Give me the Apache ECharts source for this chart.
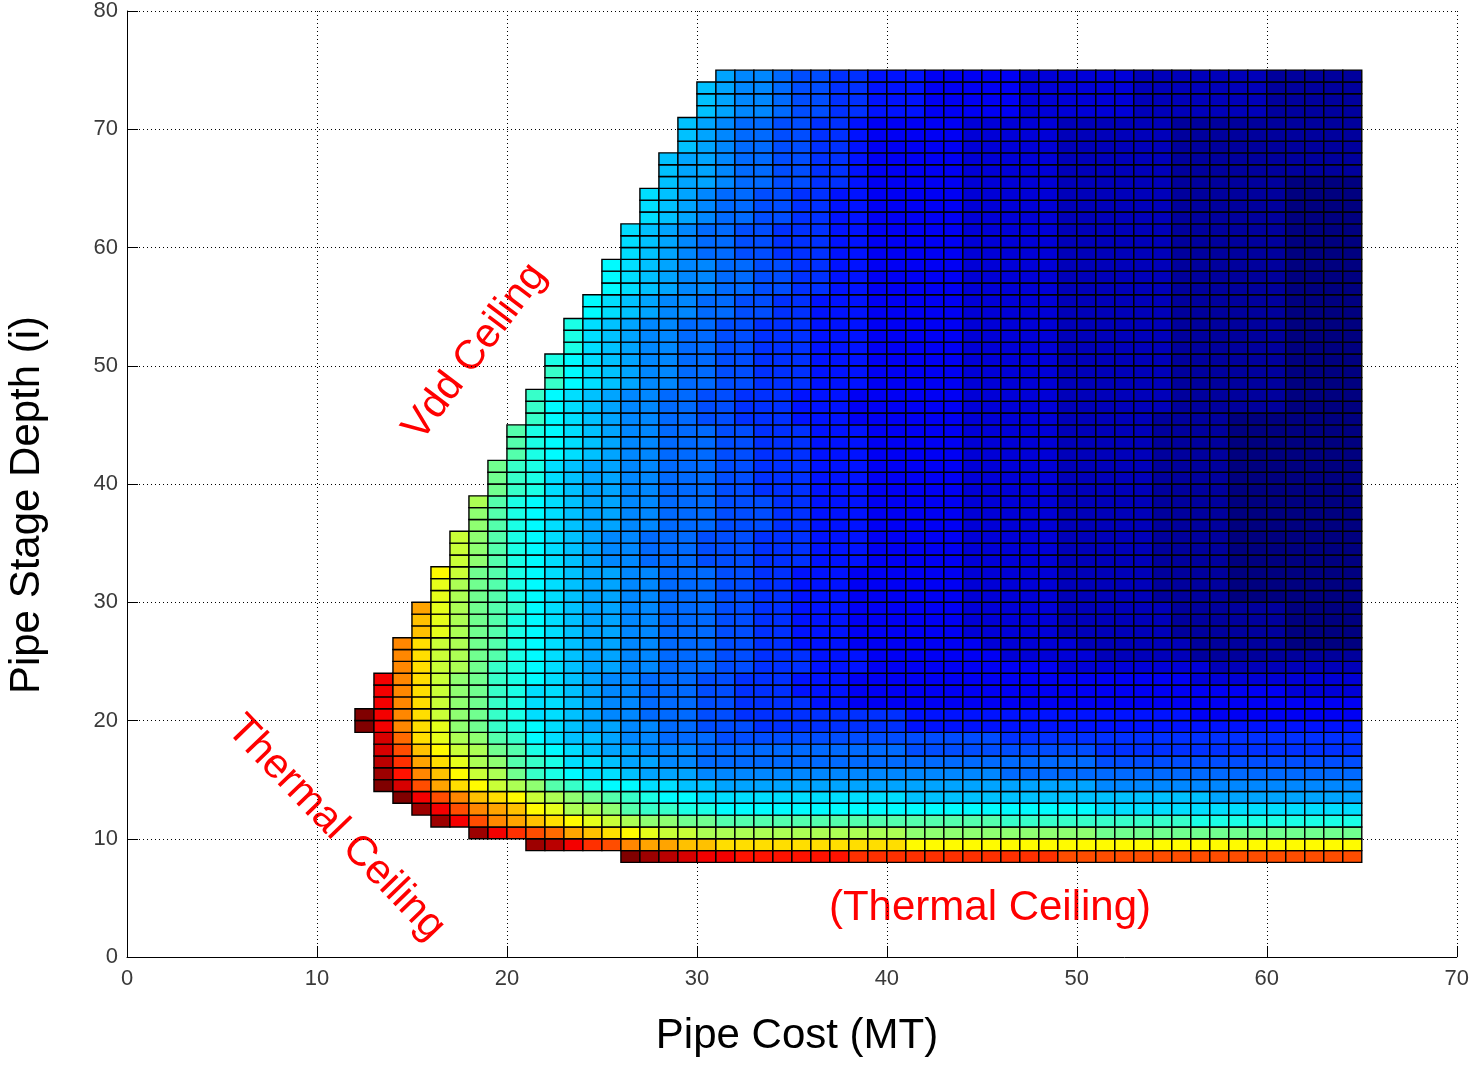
<!DOCTYPE html>
<html>
<head>
<meta charset="utf-8">
<script src="https://cdn.jsdelivr.net/npm/echarts@6/dist/echarts.min.js"></script>
<style>
html,body{margin:0;padding:0;background:#ffffff;}
#chart{width:1472px;height:1065px;}
</style>
</head>
<body>
<div id="chart"></div>
<script>
// ---- axis ticks ----
const xTicks = [0, 10, 20, 30, 40, 50, 60, 70];
const yTicks = [0, 10, 20, 30, 40, 50, 60, 70, 80];

// ---- pipe stage depth of each row of cells (bottom edge) ----
const depths = [8,9,10,11,12,13,14,15,16,17,18,19,20,21,22,23,24,25,26,27,28,29,30,31,32,33,34,35,36,37,38,39,40,41,42,43,44,45,46,47,48,49,50,51,52,53,54,55,56,57,58,59,60,61,62,63,64,65,66,67,68,69,70,71,72,73,74];

// ---- first pipe cost column present in each row (rows end at cost 64) ----
const startCost = [26,21,18,16,15,14,13,13,13,13,13,12,12,13,13,13,14,14,14,15,15,15,16,16,16,17,17,17,18,18,18,19,19,19,20,20,20,21,21,21,22,22,22,23,23,23,24,24,25,25,25,26,26,26,27,27,27,28,28,28,29,29,29,30,30,30,31];

// ---- colour level of each cell (0 = dark blue ... 35 = dark red), "v*n" = n cells of level v ----
const levelRows = [
  "35 34 33 32 31 31 30*6 29*11 28*16",
  "34 33 31 29 28 26 25 25 24 24 23*10 22*24",
  "34 31 29 28 27 25 24 23 22 21 20 20 19*11 18*10 17*14",
  "34 31 28 26 25 24 23 22 21 20 19 18 18 17 17 16*15 15*10 14*9",
  "34 31 28 26 25 24 22 21 19 19 18 16 15 15 14 14 13*20 12*14",
  "35 31 28 26 24 23 22 20 19 18 17 16 15 14 13 13 12*11 11*16 10*8",
  "35 32 28 25 23 22 20 19 18 16 15 14 13 13 12 12 11 11 10*20 9*14",
  "34 30 26 24 22 20 19 17 15 14 13 12 12 11 10 10 10 9*16 8*19",
  "33 29 25 23 21 19 18 16 15 14 12 12 11 10 10 9 9 8*21 7*14",
  "32 28 24 22 20 19 17 16 14 13 12 11 10 10 9 9 9 8*11 7*10 6*14",
  "32 27 23 21 19 18 16 15 13 12 11 11 10 9 9 8 8 8 7*15 6*19",
  "35 31 26 23 21 18 17 15 14 13 12 11 10 10 9 9 8 8 7 7 7 6*8 5*24",
  "35 31 26 23 20 18 17 15 14 12 12 11 10 9 9 8 8 8 7 7 6*9 5*15 4*9",
  "31 26 23 20 18 17 15 14 12 12 11 10 9 9 8 8 8 7 7 6 6 6 6 5 5 4*27",
  "31 26 23 20 18 17 15 14 12 12 11 10 9 9 8 8 8 7 7 6 6 6 5 5 5 4*23 3*4",
  "31 26 23 20 18 17 15 14 13 12 11 10 9 9 8 8 8 7 7 6 6 6 5 5 5 4*18 3*9",
  "26 23 20 19 17 15 14 13 12 11 10 10 9 9 8 8 8 7 7 6 6 6 5 5 5 4*10 3*8 2*8",
  "26 23 20 19 17 16 14 13 12 11 10 10 9 9 8 8 8 7 7 6 6 6 5 5 5 4*7 3*5 2*5 1*9",
  "26 23 20 19 17 16 14 13 12 11 10 10 9 9 8 8 8 7 7 6 6 5 5 5 4*7 3*5 2*6 1*5 0*4",
  "24 21 19 17 16 14 13 12 11 10 10 9 9 8 8 8 7 7 6 6 5 5 5 4*6 3*5 2*6 1*6 0*4",
  "24 21 19 17 16 14 13 12 11 10 10 9 9 8 8 8 7 7 6 6 5 5 5 4*6 3*5 2*6 1*6 0*4",
  "25 21 19 17 16 15 13 12 11 10 10 9 9 8 8 8 7 7 6 6 5 5 5 4*6 3*5 2*6 1*6 0*4",
  "21 19 17 16 14 13 12 11 10 10 9 9 8 8 8 7 7 6 6 5 5 5 4 4*5 3*5 2*5 1*4 0*7",
  "21 19 17 16 14 13 12 11 10 10 9 9 8 8 8 7 7 6 6 5 5 5 4 4*5 3*5 2*5 1*4 0*7",
  "22 20 17 16 14 13 12 11 10 10 9 9 8 8 8 7 7 6 6 5 5 5 4 4*5 3*5 2*5 1*4 0*7",
  "20 18 16 14 13 12 11 10 9 9 8 8 8 7 7 7 6 6 6 5 5 5 4*5 3*5 2*5 1*4 0*7",
  "20 18 16 14 13 12 11 10 9 9 8 8 8 7 7 7 6 6 6 5 5 5 4*5 3*5 2*5 1*4 0*7",
  "20 18 16 14 13 12 11 10 9 9 8 8 8 7 7 7 6 6 6 5 5 5 4*5 3*5 2*5 1*4 0*7",
  "18 16 14 13 12 11 10 10 9 9 8 8 8 7 7 7 6 6 5 5 5 4*5 3*5 2*5 1*4 0*7",
  "18 16 14 13 12 11 10 10 9 9 8 8 8 7 7 7 6 6 5 5 5 4*5 3*5 2*5 1*4 0*7",
  "19 16 14 13 12 11 10 10 9 9 8 8 8 7 7 7 6 6 5 5 5 4*5 3*5 2*5 1*4 0*7",
  "17 15 14 12 11 10 10 9 9 8 8 8 7 7 6 6 6 5 5 5 4*5 3*5 2*5 1*4 0*7",
  "17 15 14 12 11 10 10 9 9 8 8 8 7 7 6 6 6 5 5 5 4*5 3*5 2*5 1*4 0*7",
  "17 15 14 12 11 10 10 9 9 8 8 8 7 7 6 6 6 5 5 5 4*5 3*5 2*5 1*4 0*7",
  "16 14 13 12 11 10 9 9 8 8 8 7 7 6 6 6 5 5 5 4*5 3*5 2*5 1*4 0*7",
  "16 14 13 12 11 10 9 9 8 8 8 7 7 6 6 6 5 5 5 4*5 3*5 2*5 1*4 0*7",
  "16 14 13 12 11 10 9 9 8 8 8 7 7 6 6 6 5 5 5 4*5 3*5 2*5 1*4 0*7",
  "15 13 12 11 10 9 9 8 8 7 7 6 6 6 5 5 5 4 4*5 3*5 2*5 1*4 0*7",
  "15 13 12 11 10 9 9 8 8 7 7 6 6 6 5 5 5 4 4*5 3*5 2*6 1*6 0*4",
  "15 13 12 11 10 9 9 8 8 7 7 6 6 6 5 5 5 4 4*5 3*5 2*6 1*6 0*4",
  "15 13 12 11 10 9 9 8 8 7 7 6 6 6 5 5 5 4*5 3*5 2*6 1*6 0*4",
  "15 13 12 11 10 9 9 8 8 7 7 6 6 6 5 5 5 4*5 3*5 2*6 1*6 0*4",
  "14 13 12 11 10 9 9 8 8 7 7 6 6 6 5 5 5 4*5 3*5 2*6 1*6 0*4",
  "14 12 11 10 9 9 8 8 7 7 6 6 6 5 5 5 4*5 3*5 2*6 1*6 0*4",
  "14 12 11 10 9 9 8 8 7 7 6 6 6 5 5 5 4*5 3*5 2*6 1*6 0*4",
  "14 12 11 10 9 9 8 8 7 7 6 6 6 5 5 5 4*5 3*5 2*6 1*6 0*4",
  "13 12 11 10 9 9 8 8 7 7 6 6 5 5 5 4*5 3*5 2*6 1*6 0*4",
  "13 12 11 10 9 9 8 8 7 7 6 6 5 5 5 4*5 3*5 2*6 1*6 0*4",
  "13 12 11 10 9 9 8 8 7 7 6 6 5 5 4*5 3*5 2*6 1*6 0*4",
  "13 12 11 10 9 9 8 8 7 7 6 6 5 5 4*5 3*5 2*6 1*6 0*4",
  "13 12 11 10 9 9 8 8 7 7 6 6 5 5 4*5 3*5 2*6 1*6 0*4",
  "12 11 10 9 8 8 7 7 6 6 6 5 5 4*5 3*5 2*6 1*6 0*4",
  "12 11 10 9 8 8 7 7 6 6 6 5 5 4*5 3*5 2*6 1*6 0*4",
  "12 11 10 9 8 8 7 7 6 6 6 5 5 4*5 3*5 2*6 1*6 0*4",
  "12 11 10 9 8 8 7 7 6 6 5 5 4*5 3*5 2*6 1*6 0*4",
  "12 11 10 9 8 8 7 7 6 6 5 5 4*5 3*5 2*6 1*6 0*4",
  "12 11 10 9 8 8 7 7 6 6 5 5 4*5 3*5 2*6 1*6 0*4",
  "11 10 10 9 8 8 7 7 6 6 5 4*5 3*5 2*6 1*6 0*4",
  "11 10 10 9 8 8 7 7 6 6 5 4*5 3*5 2*6 1*10",
  "11 10 10 9 8 8 7 7 6 6 5 4*5 3*5 2*6 1*10",
  "11 10 9 8 8 7 7 6 6 5 4*5 3*5 2*6 1*10",
  "11 10 9 8 8 7 7 6 6 5 4*5 3*5 2*6 1*10",
  "11 10 9 8 8 7 7 6 6 5 4*5 3*5 2*6 1*10",
  "11 10 9 9 8 7 7 6 6 5*3 4*5 3*6 2*7 1*5",
  "11 10 9 9 8 7 7 6 6 5*3 4*5 3*6 2*7 1*5",
  "11 10 9 9 8 7 7 6 6 5*3 4*5 3*6 2*7 1*5",
  "10 9 9 8 7 7 6 6 5*3 4*5 3*6 2*7 1*5"
];

// jet colour map (MATLAB style)
const jetColors = ['#000080','#0000ff','#0080ff','#00ffff','#80ff80','#ffff00','#ff8000','#ff0000','#800000'];

function expandRow(s) {
  const out = [];
  s.trim().split(/\s+/).forEach(function (tok) {
    const parts = tok.split('*');
    const n = parts.length > 1 ? parseInt(parts[1], 10) : 1;
    for (let k = 0; k < n; k++) out.push(parseFloat(parts[0]));
  });
  return out;
}

const cells = [];
depths.forEach(function (d, i) {
  expandRow(levelRows[i]).forEach(function (v, j) {
    cells.push([startCost[i] + j, d, v]);
  });
});

const FONT = "'Liberation Sans', Arial, Helvetica, sans-serif";
const chart = echarts.init(document.getElementById('chart'), null, {renderer: 'canvas'});

chart.setOption({
  animation: false,
  backgroundColor: '#ffffff',
  grid: {left: 127, right: 12, top: 11, bottom: 108, containLabel: false},
  xAxis: {
    type: 'value', min: xTicks[0], max: xTicks[xTicks.length - 1], interval: 10,
    axisLine: {show: true, onZero: false, lineStyle: {color: '#000', width: 1}},
    axisTick: {show: true, inside: true, length: 11, lineStyle: {color: '#000', width: 1}},
    axisLabel: {margin: 11, fontSize: 22, color: '#3a3a3a', fontFamily: FONT},
    splitLine: {show: true, lineStyle: {color: '#000', width: 1, type: [1, 3]}}
  },
  yAxis: {
    type: 'value', min: yTicks[0], max: yTicks[yTicks.length - 1], interval: 10,
    axisLine: {show: true, onZero: false, lineStyle: {color: '#000', width: 1}},
    axisTick: {show: true, inside: true, length: 11, lineStyle: {color: '#000', width: 1}},
    axisLabel: {margin: 9, fontSize: 22, color: '#3a3a3a', fontFamily: FONT},
    splitLine: {show: true, lineStyle: {color: '#000', width: 1, type: [1, 3]}}
  },
  visualMap: {
    show: false, type: 'continuous', min: 0, max: 35, dimension: 2, seriesIndex: 0,
    inRange: {color: jetColors}
  },
  series: [{
    type: 'custom',
    data: cells,
    encode: {x: 0, y: 1},
    renderItem: function (params, api) {
      const x = api.value(0), y = api.value(1);
      const p0 = api.coord([x, y + 1]);
      const p1 = api.coord([x + 1, y]);
      return {
        type: 'rect',
        shape: {x: p0[0], y: p0[1], width: p1[0] - p0[0], height: p1[1] - p0[1]},
        style: {fill: api.visual('color'), stroke: '#000', lineWidth: 1.4}
      };
    }
  }],
  graphic: [
    {type: 'text', x: 797, y: 1036, style: {text: 'Pipe Cost (MT)', fontSize: 42, fontFamily: FONT, fill: '#000', align: 'center', verticalAlign: 'middle', textAlign: 'center', textVerticalAlign: 'middle'}},
    {type: 'text', x: 27, y: 505, rotation: Math.PI / 2, style: {text: 'Pipe Stage Depth (i)', fontSize: 42, fontFamily: FONT, fill: '#000', align: 'center', verticalAlign: 'middle', textAlign: 'center', textVerticalAlign: 'middle'}},
    {type: 'text', x: 475, y: 352, rotation: 53 * Math.PI / 180, style: {text: 'Vdd Ceiling', fontSize: 41, fontFamily: FONT, fill: '#ff0000', align: 'center', verticalAlign: 'middle', textAlign: 'center', textVerticalAlign: 'middle'}},
    {type: 'text', x: 336, y: 828, rotation: -46 * Math.PI / 180, style: {text: 'Thermal Ceiling', fontSize: 42, fontFamily: FONT, fill: '#ff0000', align: 'center', verticalAlign: 'middle', textAlign: 'center', textVerticalAlign: 'middle'}},
    {type: 'text', x: 990, y: 908, style: {text: '(Thermal Ceiling)', fontSize: 42, fontFamily: FONT, fill: '#ff0000', align: 'center', verticalAlign: 'middle', textAlign: 'center', textVerticalAlign: 'middle'}}
  ]
});
</script>
</body>
</html>
